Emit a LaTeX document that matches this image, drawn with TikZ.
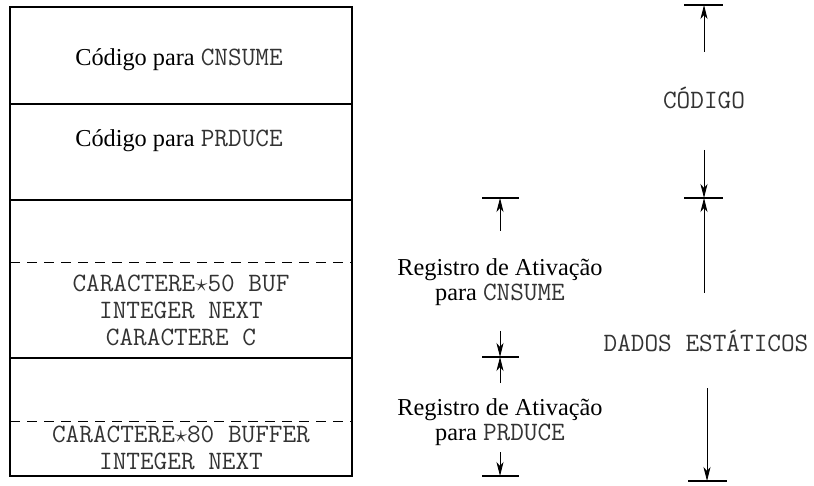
\documentclass[tikz,border=0pt]{standalone}
\usepackage{fontspec}
\setmainfont{Liberation Serif}
\usetikzlibrary{arrows.meta}
\tikzset{txt/.style = {align=center, inner sep=0, font=\fontsize{24.3}{25}\selectfont}}
\tikzset{boxline/.style = {line width=1.4pt}}
\tikzset{sepline/.style = {line width=0.9pt, dash pattern=on 10pt off 7pt}}
\tikzset{dimline/.style = {line width=0.9pt, -{Stealth[length=14pt, width=7pt, inset=4pt]}}}
\tikzset{dimtick/.style = {line width=1.4pt}}
\newcommand{\prog}[1]{{\ttfamily\fontsize{26.5}{26.5}\selectfont\color{black!80}#1}}

\begin{document}
\begin{tikzpicture}[x=1pt, y=-1pt]
  \useasboundingbox (0,0) rectangle (814,486);
  % memory layout
  \draw[boxline] (10,7) rectangle (352,476);
  \draw[boxline] (10,104) -- (352,104);
  \draw[boxline] (10,200) -- (352,200);
  \draw[boxline] (10,358) -- (352,358);
  \draw[sepline] (10,262) -- (352,262);
  \draw[sepline] (10,421) -- (352,421);
  \node[txt] (cnsume) at (179,60) {C\'odigo para \prog{CNSUME}};
  \node[txt] (prduce) at (179,141) {C\'odigo para \prog{PRDUCE}};
  \node[txt, font=\fontsize{26.5}{27}\selectfont] (vars1) at (181,310) {\prog{CARACTERE$\star$50 BUF}\\\prog{INTEGER NEXT}\\\prog{CARACTERE C}};
  \node[txt, font=\fontsize{26.5}{26.5}\selectfont] (vars2) at (181,448) {\prog{CARACTERE$\star$80 BUFFER}\\\prog{INTEGER NEXT}};
  % activation records
  \coordinate (a1) at (500,198);
  \coordinate (a2) at (500,357);
  \coordinate (a3) at (500,476);
  \coordinate (a1t) at (500,231);
  \coordinate (a2u) at (500,331);
  \coordinate (a2d) at (500,383);
  \coordinate (a3t) at (500,452);
  \draw[dimtick] ([xshift=-18pt]a1) -- ([xshift=19pt]a1);
  \draw[dimtick] ([xshift=-18pt]a2) -- ([xshift=19pt]a2);
  \draw[dimtick] ([xshift=-18pt]a3) -- ([xshift=19pt]a3);
  \draw[dimline] (a1t) -- (a1);
  \draw[dimline] (a2u) -- (a2);
  \draw[dimline] (a2d) -- (a2);
  \draw[dimline] (a3t) -- (a3);
  \node[txt] (reg1) at (500,282) {Registro de Ativa\c{c}\~ao\\para \prog{CNSUME}};
  \node[txt] (reg2) at (500,422) {Registro de Ativa\c{c}\~ao\\para \prog{PRDUCE}};
  % code and static data
  \coordinate (b1) at (704,5);
  \coordinate (b2) at (704,198);
  \coordinate (b3) at (707,481);
  \coordinate (b1t) at (704,52);
  \coordinate (b2u) at (704,150);
  \coordinate (b2d) at (704,293);
  \coordinate (b3t) at (707,388);
  \draw[dimtick] ([xshift=-20pt]b1) -- ([xshift=19pt]b1);
  \draw[dimtick] ([xshift=-20pt]b2) -- ([xshift=19pt]b2);
  \draw[dimtick] ([xshift=-19pt]b3) -- ([xshift=20pt]b3);
  \draw[dimline] (b1t) -- (b1);
  \draw[dimline] (b2u) -- (b2);
  \draw[dimline] (b2d) -- (b2);
  \draw[dimline] (b3t) -- (b3);
  \node[txt] (codigo) at (704,98) {\prog{C\'ODIGO}};
  \node[txt] (dados) at (706,341) {\prog{DADOS EST\'ATICOS}};
\end{tikzpicture}
\end{document}
